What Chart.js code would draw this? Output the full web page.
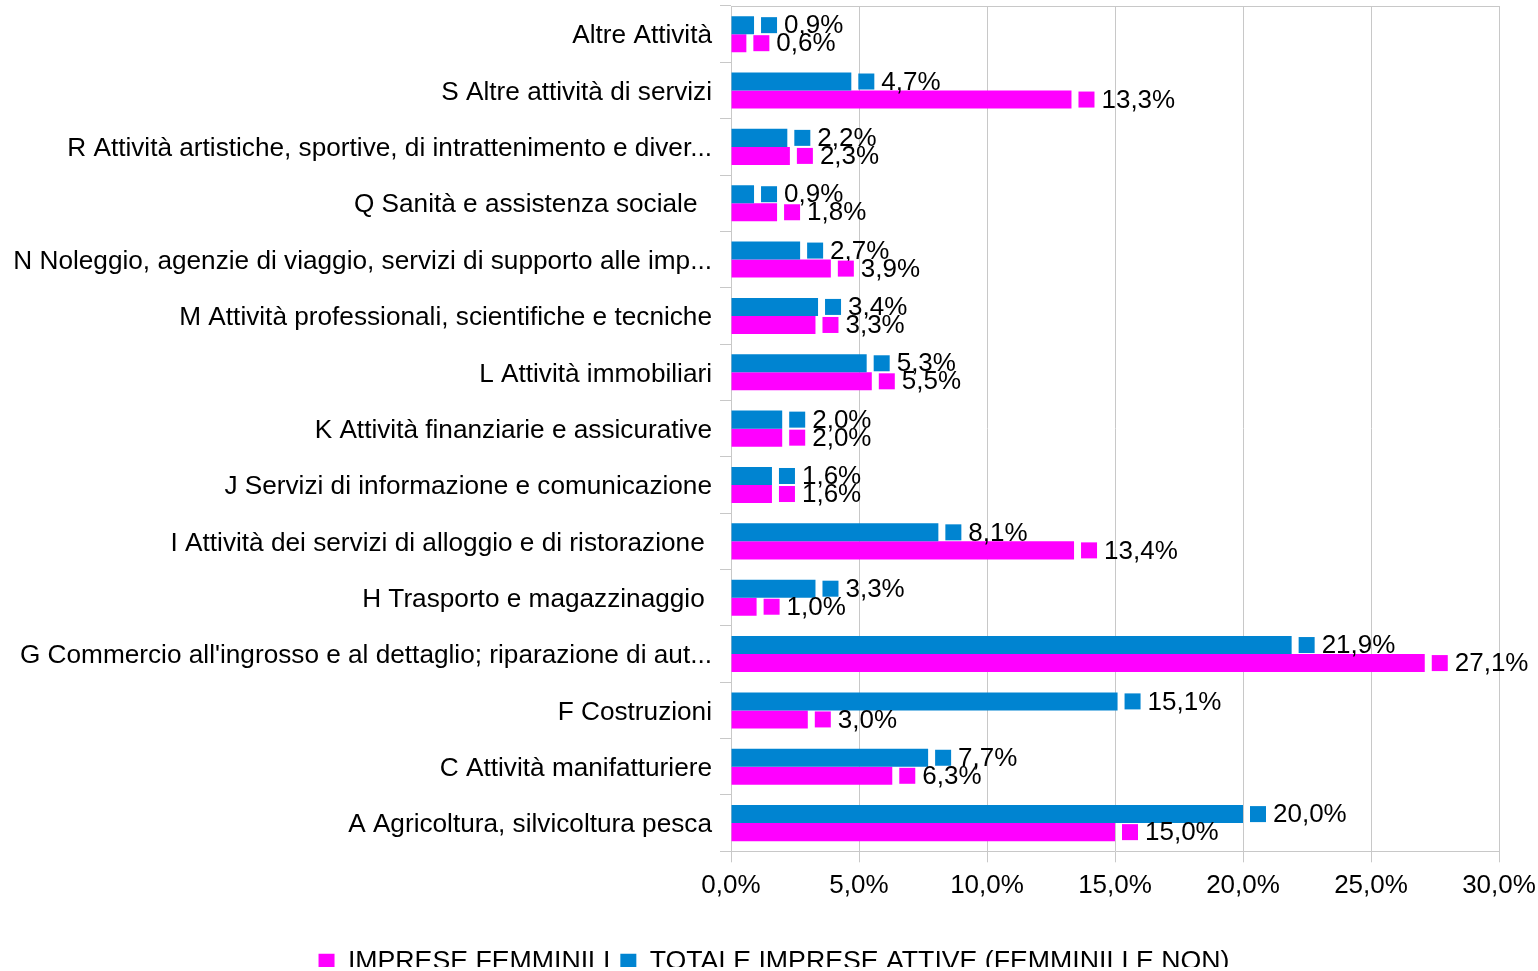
<!DOCTYPE html>
<html>
<head>
<meta charset="utf-8">
<title>Imprese femminili per settore</title>
<script src="https://cdn.jsdelivr.net/npm/chart.js@4/dist/chart.umd.min.js"></script>
<style>
  html, body { margin: 0; padding: 0; background: #fff; overflow: hidden; }
  #wrap { width: 1538px; height: 967px; overflow: hidden; position: relative; }
  canvas { display: block; }
</style>
</head>
<body>
<div id="wrap"><canvas id="chart" width="1538" height="985"></canvas></div>
<script>
// categories top to bottom
const categories = [
  "Altre Attività",
  "S Altre attività di servizi",
  "R Attività artistiche, sportive, di intrattenimento e diver...",
  "Q Sanità e assistenza sociale  ",
  "N Noleggio, agenzie di viaggio, servizi di supporto alle imp...",
  "M Attività professionali, scientifiche e tecniche",
  "L Attività immobiliari",
  "K Attività finanziarie e assicurative",
  "J Servizi di informazione e comunicazione",
  "I Attività dei servizi di alloggio e di ristorazione ",
  "H Trasporto e magazzinaggio ",
  "G Commercio all'ingrosso e al dettaglio; riparazione di aut...",
  "F Costruzioni",
  "C Attività manifatturiere",
  "A Agricoltura, silvicoltura pesca"
];

const totaleAttive = [0.9, 4.7, 2.2, 0.9, 2.7, 3.4, 5.3, 2.0, 1.6, 8.1, 3.3, 21.9, 15.1, 7.7, 20.0];
const impreseFemminili = [0.6, 13.3, 2.3, 1.8, 3.9, 3.3, 5.5, 2.0, 1.6, 13.4, 1.0, 27.1, 3.0, 6.3, 15.0];

const xTicks = [0, 5, 10, 15, 20, 25, 30];

const BLUE = "#0084d1";
const MAGENTA = "#ff00ff";
const GRID = "#c8c8c8";
const FONT = "'Liberation Sans', Arial, sans-serif";

function pct(v) {
  return v.toFixed(1).replace(".", ",") + "%";
}

// value labels with a small colour square in front, like the office chart
const valueLabels = {
  id: "valueLabels",
  afterDatasetsDraw(chart) {
    const ctx = chart.ctx;
    ctx.save();
    ctx.font = "26px " + FONT;
    ctx.textBaseline = "middle";
    ctx.textAlign = "left";
    chart.data.datasets.forEach((ds, di) => {
      const meta = chart.getDatasetMeta(di);
      meta.data.forEach((bar, i) => {
        const x = bar.x + 7;
        const y = bar.y;
        ctx.fillStyle = ds.backgroundColor;
        ctx.fillRect(x, y - 8, 16, 16);
        ctx.fillStyle = "#000";
        ctx.fillText(pct(ds.data[i]), x + 23, y + 1);
      });
    });
    ctx.restore();
  }
};

// top frame line of the plot area
const topLine = {
  id: "topLine",
  beforeDatasetsDraw(chart) {
    const a = chart.chartArea;
    const ctx = chart.ctx;
    ctx.save();
    ctx.strokeStyle = GRID;
    ctx.lineWidth = 1;
    ctx.beginPath();
    ctx.moveTo(a.left, a.top + 0.5);
    ctx.lineTo(a.right, a.top + 0.5);
    ctx.stroke();
    ctx.restore();
  }
};

new Chart(document.getElementById("chart"), {
  type: "bar",
  data: {
    labels: categories,
    datasets: [
      {
        label: "TOTALE IMPRESE ATTIVE (FEMMINILI E NON)",
        data: totaleAttive,
        backgroundColor: BLUE,
        borderWidth: 0,
        categoryPercentage: 0.64,
        barPercentage: 1
      },
      {
        label: "IMPRESE FEMMINILI",
        data: impreseFemminili,
        backgroundColor: MAGENTA,
        borderWidth: 0,
        categoryPercentage: 0.64,
        barPercentage: 1
      }
    ]
  },
  options: {
    indexAxis: "y",
    responsive: false,
    animation: false,
    layout: { padding: { top: 6, right: 0, left: 10, bottom: 0 } },
    plugins: {
      tooltip: { enabled: false },
      legend: {
        position: "bottom",
        reverse: true,
        labels: {
          color: "#000",
          font: { family: FONT, size: 26.7 },
          boxWidth: 16,
          boxHeight: 16,
          padding: 10
        }
      }
    },
    scales: {
      x: {
        min: 0,
        max: 30,
        afterBuildTicks(s) {
          s.ticks = xTicks.map((v) => ({ value: v }));
        },
        afterFit(s) {
          s.height = 87;
          s.paddingLeft = 0;
          s.paddingRight = 39;
        },
        grid: { color: GRID, tickLength: 11, drawTicks: true },
        border: { color: GRID },
        ticks: {
          color: "#000",
          padding: 8,
          maxRotation: 0,
          font: { family: FONT, size: 26 },
          callback: (v) => pct(v)
        }
      },
      y: {
        afterFit(s) {
          s.width = 721;
          s.paddingTop = 0;
          s.paddingBottom = 0;
        },
        grid: { color: GRID, drawOnChartArea: false, tickLength: 11, offset: true },
        border: { color: GRID },
        ticks: {
          color: "#000",
          padding: 8,
          labelOffset: 2,
          autoSkip: false,
          font: { family: FONT, size: 26.2 }
        }
      }
    }
  },
  plugins: [topLine, valueLabels]
});
</script>
</body>
</html>
